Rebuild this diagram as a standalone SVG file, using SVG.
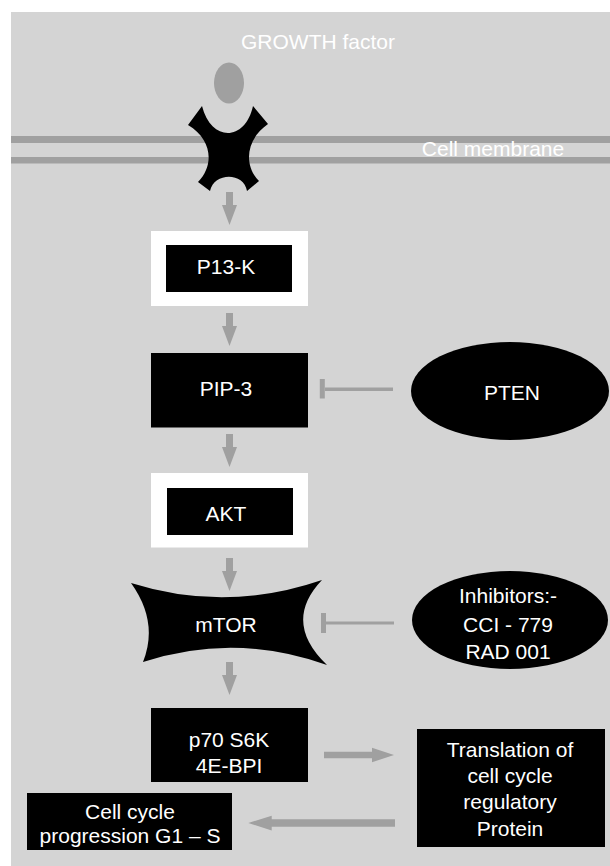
<svg xmlns="http://www.w3.org/2000/svg" width="610" height="866" viewBox="0 0 610 866">
<style>
text{font-family:"Liberation Sans",Arial,Helvetica,sans-serif;font-size:21px;fill:#ffffff;text-anchor:middle}
.blk{fill:#000000}
.wht{fill:#ffffff}
.gry{fill:#a0a0a0}
.inh{stroke:#a0a0a0;fill:none}
</style>
<defs>
<path id="down" d="M-3.5,0 H3.5 V13 H7.5 L0,33 L-7.5,13 H-3.5 Z"/>
</defs>
<rect x="11" y="12" width="599" height="854" fill="#d4d4d4"/>
<g id="membrane">
<rect x="11" y="136" width="599" height="7" class="gry"/>
<rect x="11" y="157" width="599" height="6.5" class="gry"/>
<text x="493" y="156">Cell membrane</text>
</g>
<g id="growth-factor">
<ellipse cx="229" cy="83" rx="15" ry="20.5" class="gry"/>
<text x="318" y="49">GROWTH factor</text>
</g>
<g id="receptor">
<path class="blk" d="M202,106 C211,142 245,142 253,106 L268,124 C245,140 244,166 259,181 L247,191 C244,172 214,172 210,191 L198,182 C214,166 213,140 188,125 Z"/>
</g>
<g id="p13k">
<rect x="151" y="231" width="157" height="75" class="wht"/>
<rect x="166" y="245" width="126" height="47" class="blk"/>
<text x="226" y="274">P13-K</text>
</g>
<g id="pip3">
<rect x="151" y="353" width="157" height="74.5" class="blk"/>
<text x="226" y="396">PIP-3</text>
</g>
<g id="pten">
<ellipse cx="510" cy="391" rx="99" ry="49" class="blk"/>
<text x="512" y="400">PTEN</text>
</g>
<g id="akt">
<rect x="151" y="473" width="157" height="74.5" class="wht"/>
<rect x="167" y="488" width="126" height="47" class="blk"/>
<text x="226" y="521">AKT</text>
</g>
<g id="mtor">
<path class="blk" d="M131,583 Q226,613 322,580 Q282,622 327,665 Q235,632 143,662 Q159,622 131,583 Z"/>
<text x="226" y="632">mTOR</text>
</g>
<g id="inhibitors">
<ellipse cx="510" cy="620" rx="98" ry="49" class="blk"/>
<text x="508" y="603">Inhibitors:-</text>
<text x="508" y="632">CCI - 779</text>
<text x="508" y="659">RAD 001</text>
</g>
<g id="p70">
<rect x="151" y="708" width="157" height="74" class="blk"/>
<text x="229" y="747">p70 S6K</text>
<text x="229" y="773">4E-BPI</text>
</g>
<g id="translation">
<rect x="417" y="729" width="188" height="118" class="blk"/>
<text x="510" y="757">Translation of</text>
<text x="510" y="783">cell cycle</text>
<text x="510" y="809">regulatory</text>
<text x="510" y="836">Protein</text>
</g>
<g id="cell-cycle">
<rect x="27" y="793" width="205" height="57" class="blk"/>
<text x="130" y="819">Cell cycle</text>
<text x="130" y="843">progression G1 – S</text>
</g>
<g id="connectors" class="gry">
<use href="#down" x="229.5" y="192"/>
<use href="#down" x="229.5" y="313"/>
<use href="#down" x="229.5" y="434"/>
<use href="#down" x="229.5" y="558"/>
<use href="#down" x="229.5" y="662"/>
<path d="M324,751.7 H372 V747.7 L394,755 L372,762.3 V758.3 H324 Z"/>
<path d="M395,819.3 H271.7 V815.7 L248.3,823 L271.7,830.5 V826.7 H395 Z"/>
<path class="inh" stroke-width="3.5" d="M325,389.3 H393"/>
<path class="inh" stroke-width="5" d="M322.3,379 V398.5"/>
<path class="inh" stroke-width="3" d="M326,623 H394"/>
<path class="inh" stroke-width="5" d="M323.5,613 V633"/>
</g>
</svg>
